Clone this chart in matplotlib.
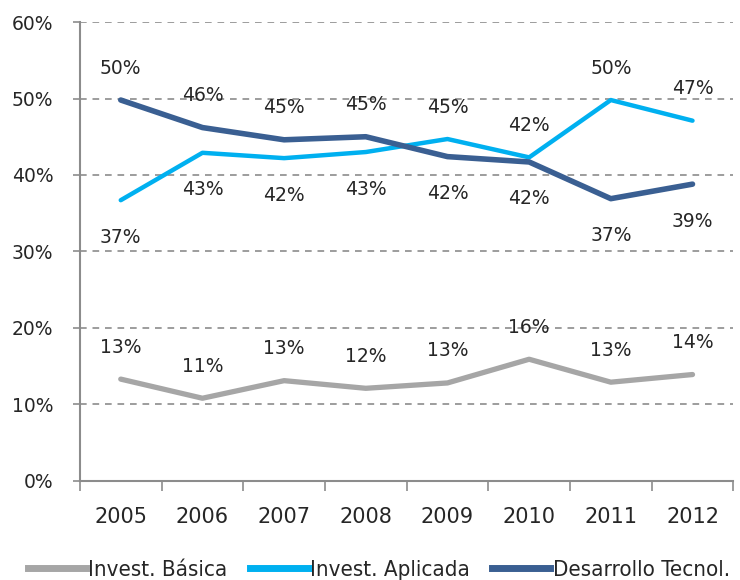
import matplotlib.pyplot as plt
from matplotlib.lines import Line2D
from matplotlib.font_manager import FontProperties

# datos
years = ['2005', '2006', '2007', '2008', '2009', '2010', '2011', '2012']
basica = [13.3, 10.8, 13.1, 12.1, 12.8, 15.9, 12.9, 13.9]
aplicada = [36.7, 42.9, 42.2, 43.0, 44.7, 42.3, 49.8, 47.1]
desarrollo = [49.8, 46.2, 44.6, 45.0, 42.4, 41.7, 36.9, 38.8]
lbl_basica = ['13%', '11%', '13%', '12%', '13%', '16%', '13%', '14%']
lbl_aplicada = ['37%', '43%', '42%', '43%', '45%', '42%', '50%', '47%']
lbl_desarrollo = ['50%', '46%', '45%', '45%', '42%', '42%', '37%', '39%']
# donde va cada etiqueta: 1 arriba, -1 abajo
pos_basica = [1, 1, 1, 1, 1, 1, 1, 1]
pos_aplicada = [-1, -1, -1, -1, 1, 1, 1, 1]
pos_desarrollo = [1, 1, 1, 1, -1, -1, -1, -1]

c_gris = '#A6A6A6'
c_celeste = '#00B0F0'
c_azul = '#3A5F92'
txt = '#262626'

fig = plt.figure(figsize=(7.4, 5.8), dpi=100)
ax = fig.add_axes([0.108, 0.171, 0.883, 0.791])

x = list(range(len(years)))
ax.plot(x, basica, color=c_gris, lw=3.8, solid_capstyle='round', zorder=3)
ax.plot(x, aplicada, color=c_celeste, lw=3.2, solid_capstyle='round', zorder=3)
ax.plot(x, desarrollo, color=c_azul, lw=4.0, solid_capstyle='round', zorder=4)

def etiquetas(vals, lbls, pos):
    for i in range(len(vals)):
        dy = 32 if pos[i] > 0 else -37
        ax.annotate(lbls[i], (x[i], vals[i]), xytext=(0, dy), textcoords='offset pixels',
                    ha='center', va='center', fontsize=13.5, color=txt, zorder=5)

etiquetas(basica, lbl_basica, pos_basica)
etiquetas(aplicada, lbl_aplicada, pos_aplicada)
etiquetas(desarrollo, lbl_desarrollo, pos_desarrollo)

ax.set_xlim(-0.5, len(years) - 0.5)
ax.set_ylim(0, 60)
ax.set_yticks(range(0, 61, 10))
ax.set_yticklabels([str(v) + '%' for v in range(0, 61, 10)])
ax.set_xticks(x)
ax.set_xticklabels(years)
ax.set_xticks([i - 0.5 for i in range(len(years) + 1)], minor=True)
ax.tick_params(axis='x', which='major', length=0, pad=19, labelsize=15, labelcolor=txt)
ax.tick_params(axis='x', which='minor', length=7.5, width=1.2, color='#8C8C8C')
ax.tick_params(axis='y', length=5, width=1.2, color='#8C8C8C', pad=14, labelsize=13.5, labelcolor=txt)

for v in range(10, 61, 10):
    ax.axhline(v, color='#8C8C8C', lw=1.2, ls=(0, (4, 3.5)), zorder=1)

for s in ['top', 'right']:
    ax.spines[s].set_visible(False)
for s in ['left', 'bottom']:
    ax.spines[s].set_color('#8C8C8C')
    ax.spines[s].set_linewidth(1.5)

handles = [Line2D([], [], color=c_gris, lw=5),
           Line2D([], [], color=c_celeste, lw=5),
           Line2D([], [], color=c_azul, lw=5)]
fp = FontProperties(family='DejaVu Sans', stretch='condensed', size=16)
leg = fig.legend(handles, ['Invest. Básica', 'Invest. Aplicada', 'Desarrollo Tecnol.'],
                 loc='center', bbox_to_anchor=(0.512, 0.018), ncol=3, frameon=False,
                 handlelength=2.6, handletextpad=0.12, columnspacing=1.0, prop=fp)
for t in leg.get_texts():
    t.set_color(txt)

fig.savefig('out.png', dpi=100)
